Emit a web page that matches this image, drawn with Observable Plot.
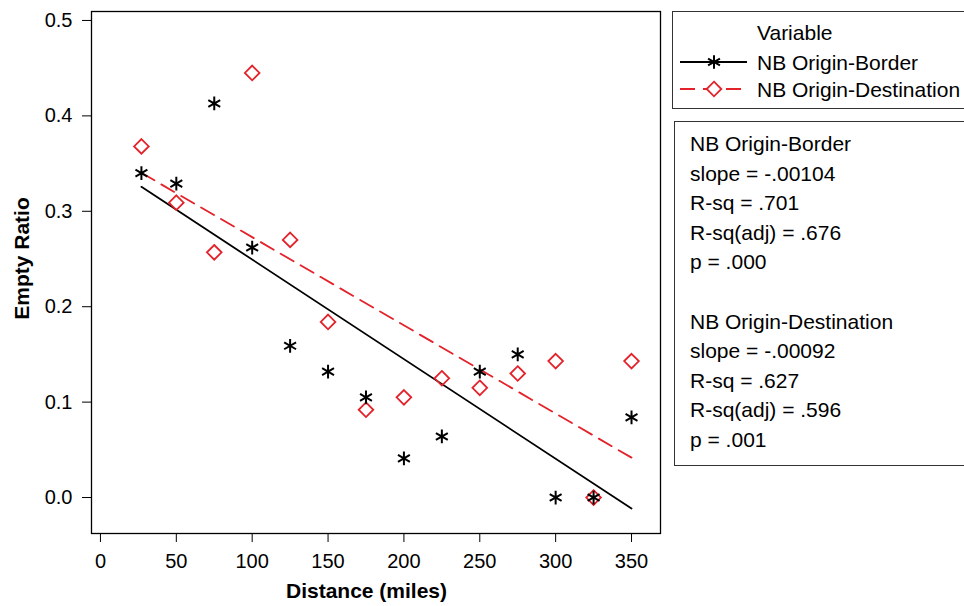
<!DOCTYPE html>
<html><head><meta charset="utf-8">
<script src="https://cdn.jsdelivr.net/npm/d3@7"></script>
<script src="https://cdn.jsdelivr.net/npm/@observablehq/plot@0.6"></script>
<style>
body{margin:0;background:#fff;font-family:"Liberation Sans",Arial,Helvetica,sans-serif;}
#wrap{position:relative;width:964px;height:606px;overflow:hidden;background:#fff;}
.box{position:absolute;border:1.5px solid #333;box-sizing:border-box;background:#fff;}
.t{position:absolute;font-size:21px;color:#000;white-space:nowrap;transform:translateY(-50%);line-height:1;}
</style></head><body><div id="wrap"></div>
<script>
// ---- data ----
const distance = [27, 50, 75, 100, 125, 150, 175, 200, 225, 250, 275, 300, 325, 350];
const originBorder = [0.340, 0.329, 0.413, 0.262, 0.159, 0.132, 0.105, 0.041, 0.064, 0.132, 0.150, 0.000, 0.000, 0.084];
const originDestination = [0.368, 0.309, 0.257, 0.445, 0.270, 0.184, 0.092, 0.105, 0.125, 0.115, 0.130, 0.143, 0.000, 0.143];
const seriesNames = ["NB Origin-Border", "NB Origin-Destination"];
const xTicks = [0, 50, 100, 150, 200, 250, 300, 350];
const yTicks = [0, 0.1, 0.2, 0.3, 0.4, 0.5];
const xTitle = "Distance (miles)";
const yTitle = "Empty Ratio";
const legendTitle = "Variable";
const statsBorder = ["slope = -.00104", "R-sq = .701", "R-sq(adj) = .676", "p = .000"];
const statsDest = ["slope = -.00092", "R-sq = .627", "R-sq(adj) = .596", "p = .001"];

const RED = "#e3222a";
const FONT = '"Liberation Sans",Arial,Helvetica,sans-serif';

const border = distance.map((d, i) => ({distance: d, ratio: originBorder[i], series: seriesNames[0]}));
const dest = distance.map((d, i) => ({distance: d, ratio: originDestination[i], series: seriesNames[1]}));

const plot = Plot.plot({
  width: 964, height: 606,
  marginLeft: 91, marginTop: 11, marginRight: 304, marginBottom: 73,
  style: {fontFamily: FONT, fontSize: "20px", color: "#000", background: "transparent"},
  x: {domain: [-5.9, 369.1], ticks: xTicks, tickSize: 9, tickPadding: 11, label: null},
  y: {domain: [-0.0377, 0.5094], ticks: yTicks, tickFormat: ".1f", tickSize: 9, tickPadding: 10, label: null},
  marks: [
    Plot.frame({stroke: "#000", strokeWidth: 1.3}),
    Plot.linearRegressionY(border, {x: "distance", y: "ratio", ci: 0, stroke: "#000", strokeWidth: 1.8}),
    Plot.linearRegressionY(dest, {x: "distance", y: "ratio", ci: 0, stroke: RED, strokeWidth: 1.8, strokeDasharray: "15,8"}),
    Plot.dot(dest, {x: "distance", y: "ratio", symbol: "diamond2", r: 6.6, stroke: RED, strokeWidth: 1.8, fill: "none"}),
    Plot.dot(border, {x: "distance", y: "ratio", symbol: "asterisk", r: 6.5, stroke: "#000", strokeWidth: 2}),
    Plot.text([xTitle], {frameAnchor: "bottom", text: d => d, dx: -9.5, dy: 58, fontWeight: "bold", fontSize: 21, lineAnchor: "middle", textAnchor: "middle"}),
    Plot.text([yTitle], {frameAnchor: "left", text: d => d, dx: -69, dy: -14, rotate: -90, fontWeight: "bold", fontSize: 21, lineAnchor: "middle", textAnchor: "middle"})
  ]
});
const wrap = document.getElementById("wrap");
wrap.appendChild(plot);

function box(l, t, w, h) {
  const b = document.createElement("div");
  b.className = "box";
  Object.assign(b.style, {left: l + "px", top: t + "px", width: w + "px", height: h + "px"});
  wrap.appendChild(b);
}
function txt(s, l, y) {
  const d = document.createElement("div");
  d.className = "t";
  d.textContent = s;
  d.style.left = l + "px"; d.style.top = y + "px";
  wrap.appendChild(d);
}
function sym(y, kind) {
  const ns = "http://www.w3.org/2000/svg";
  const s = document.createElementNS(ns, "svg");
  s.setAttribute("width", 70); s.setAttribute("height", 20);
  Object.assign(s.style, {position: "absolute", left: "679px", top: (y - 10) + "px"});
  const line = document.createElementNS(ns, "line");
  line.setAttribute("x1", 1); line.setAttribute("x2", 68); line.setAttribute("y1", 10); line.setAttribute("y2", 10);
  line.setAttribute("stroke", kind === 0 ? "#000" : RED); line.setAttribute("stroke-width", 1.8);
  if (kind === 1) line.setAttribute("stroke-dasharray", "15,8");
  s.appendChild(line);
  const p = document.createElementNS(ns, "path");
  const sy = kind === 0 ? d3.symbol(d3.symbolAsterisk, Math.PI * 6.5 * 6.5) : d3.symbol(d3.symbolDiamond2, Math.PI * 6.6 * 6.6);
  p.setAttribute("d", sy());
  p.setAttribute("transform", "translate(35,10)");
  p.setAttribute("fill", kind === 0 ? "none" : "#fff");
  p.setAttribute("stroke", kind === 0 ? "#000" : RED);
  p.setAttribute("stroke-width", kind === 0 ? 2 : 1.8);
  s.appendChild(p);
  wrap.appendChild(s);
}

box(672, 11, 300, 98);
txt(legendTitle, 757, 32);
sym(62, 0); txt(seriesNames[0], 757, 62);
sym(89, 1); txt(seriesNames[1], 757, 89);

box(674, 121, 300, 345);
const lines = [seriesNames[0], ...statsBorder, "", seriesNames[1], ...statsDest];
lines.forEach((s, i) => { if (s) txt(s, 690, 143 + i * 29.6); });
</script>
</body></html>
